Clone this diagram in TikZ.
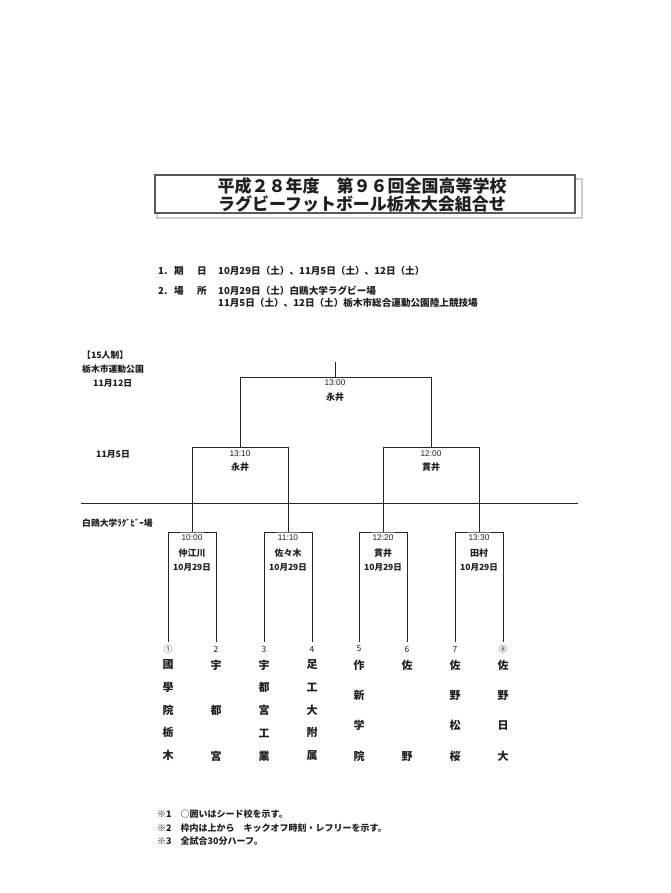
\documentclass[tikz,border=0pt]{standalone}
\usepackage{fontspec}
\setmainfont{Noto Sans CJK JP}
\newfontfamily\numfont{Liberation Sans}
\begin{document}
\begin{tikzpicture}[x=1pt,y=-1pt,
  ln/.style={line width=0.8pt, draw=black!85},
  txt/.style={inner sep=0pt, text=black!88},
  titletxt/.style={txt, font=\fontsize{17}{18}\selectfont\bfseries},
  hdr/.style={txt, anchor=west, font=\fontsize{9.6}{11}\selectfont\bfseries},
  lbl/.style={txt, anchor=west, font=\fontsize{8.8}{10}\selectfont\bfseries},
  timetxt/.style={txt, font=\numfont\fontsize{8.3}{9}\selectfont},
  reftxt/.style={txt, font=\fontsize{9}{10}\selectfont\bfseries},
  datetxt/.style={txt, font=\fontsize{8.5}{10}\selectfont\bfseries},
  numtxt/.style={txt, minimum height=14pt, font=\fontsize{8.5}{9}\selectfont},
  team/.style={txt, anchor=north, align=center, font=\fontsize{11}{#1}\selectfont\bfseries},
  note/.style={txt, anchor=west, font=\fontsize{9}{10}\selectfont\bfseries}
]
\useasboundingbox (0,0) rectangle (670,893);
\fill[white] (0,0) rectangle (670,893);

% title box with light shadow
\draw[line width=1.4pt, draw=black!20] (157,179) rectangle (582,218);
\node[draw=black!65, line width=1.3pt, fill=white, minimum width=420pt, minimum height=38pt, inner sep=0pt] (tbox) at (365,194) {};
\node[titletxt] (title1) at (362,186) {平成２８年度　第９６回全国高等学校};
\node[titletxt] (title2) at (362,204) {ラグビーフットボール栃木大会組合せ};

% header items
\node[hdr] (h1a) at (158,271) {1.};
\node[hdr] (h1b) at (174,271) {期};
\node[hdr] (h1c) at (197,271) {日};
\node[hdr] (h1d) at (218,271) {10月29日（土）、11月5日（土）、12日（土）};
\node[hdr] (h2a) at (158,291) {2.};
\node[hdr] (h2b) at (174,291) {場};
\node[hdr] (h2c) at (197,291) {所};
\node[hdr] (h2d) at (218,291) {10月29日（土）白鴎大学ラグビー場};
\node[hdr] (h2e) at (218,303) {11月5日（土）、12日（土）栃木市総合運動公園陸上競技場};

% left labels
\node[lbl] (l1) at (82,355) {【15人制】};
\node[lbl] (l2) at (82,369) {栃木市運動公園};
\node[lbl] (l3) at (93,383) {11月12日};
\node[lbl] (l4) at (96,454) {11月5日};
\node[lbl] (l5) at (82,523) {白鴎大学ﾗｸﾞﾋﾞｰ場};

% divider
\coordinate (dl) at (81,503);
\coordinate (dr) at (578,503);
\draw[ln] (dl) -- (dr);

% bracket coordinates
\coordinate (top) at (335,362);
\coordinate (fin) at (335,377);
\coordinate (finL) at (240,377);
\coordinate (finR) at (431,377);
\coordinate (sf1) at (240,447);
\coordinate (sf2) at (431,447);
\coordinate (sf1L) at (192,447);
\coordinate (sf1R) at (288,447);
\coordinate (sf2L) at (383,447);
\coordinate (sf2R) at (479,447);
\coordinate (m1) at (192,532);
\coordinate (m2) at (288,532);
\coordinate (m3) at (383,532);
\coordinate (m4) at (479,532);

% team numbers
\node[numtxt] (t1) at (168,649) {①};
\node[numtxt] (t2) at (216,649) {2};
\node[numtxt] (t3) at (264,649) {3};
\node[numtxt] (t4) at (312,649) {4};
\node[numtxt] (t5) at (359,649) {5};
\node[numtxt] (t6) at (407,649) {6};
\node[numtxt] (t7) at (455,649) {7};
\node[numtxt] (t8) at (503,649) {⑧};

% final
\draw[ln] (top) -- (fin);
\draw[ln] (sf1) -- (finL) -- (finR) -- (sf2);
% semifinals
\draw[ln] (m1) -- (sf1L) -- (sf1R) -- (m2);
\draw[ln] (m3) -- (sf2L) -- (sf2R) -- (m4);
% first round boxes
\draw[ln] (t1.north) |- (m1) -| (t2.north);
\draw[ln] (t3.north) |- (m2) -| (t4.north);
\draw[ln] (t5.north) |- (m3) -| (t6.north);
\draw[ln] (t7.north) |- (m4) -| (t8.north);

% match texts
\node[timetxt] (ft) at (335,383) {13:00};
\node[reftxt] (fr) at (335,397) {永井};
\node[timetxt] (s1t) at (240,454) {13:10};
\node[reftxt] (s1r) at (240,467) {永井};
\node[timetxt] (s2t) at (431,454) {12:00};
\node[reftxt] (s2r) at (431,467) {貫井};

\node[timetxt] (m1t) at (192,538) {10:00};
\node[reftxt] (m1r) at (192,553) {仲江川};
\node[datetxt] (m1d) at (192,567) {10月29日};
\node[timetxt] (m2t) at (288,538) {11:10};
\node[reftxt] (m2r) at (288,553) {佐々木};
\node[datetxt] (m2d) at (288,567) {10月29日};
\node[timetxt] (m3t) at (383,538) {12:20};
\node[reftxt] (m3r) at (383,553) {貫井};
\node[datetxt] (m3d) at (383,567) {10月29日};
\node[timetxt] (m4t) at (479,538) {13:30};
\node[reftxt] (m4r) at (479,553) {田村};
\node[datetxt] (m4d) at (479,567) {10月29日};

% team names (vertical)
\node[team=22.75] (n1) at (168,659.5) {國\\學\\院\\栃\\木};
\node[team=45.5] (n2) at (216,659.5) {宇\\都\\宮};
\node[team=22.75] (n3) at (264,659.5) {宇\\都\\宮\\工\\業};
\node[team=22.75] (n4) at (312,659.5) {足\\工\\大\\附\\属};
\node[team=30.33] (n5) at (359,659.5) {作\\新\\学\\院};
\node[team=91] (n6) at (407,659.5) {佐\\野};
\node[team=30.33] (n7) at (455,659.5) {佐\\野\\松\\桜};
\node[team=30.33] (n8) at (503,659.5) {佐\\野\\日\\大};

% notes
\node[note] (nt1) at (157,814) {※1　○囲いはシード校を示す。};
\node[note] (nt2) at (157,828) {※2　枠内は上から　キックオフ時刻・レフリーを示す。};
\node[note] (nt3) at (157,841) {※3　全試合30分ハーフ。};
\end{tikzpicture}
\end{document}
